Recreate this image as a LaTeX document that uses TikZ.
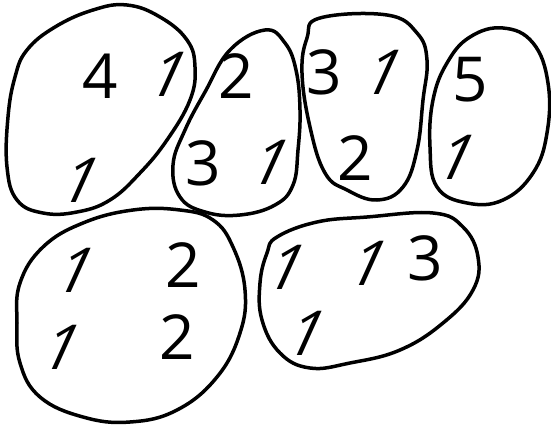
\documentclass[tikz,border=0pt]{standalone}
\usepackage{fontspec}
\setsansfont{Open Sans}
\begin{document}
\begin{tikzpicture}[x=1pt, y=-1pt,
    blob/.style={line width=3.5pt, line join=round},
    digit/.style={font=\sffamily\fontsize{62}{62}\selectfont, inner sep=0pt},
    one/.style={digit, xslant=0.45}]
    \useasboundingbox (0,0) rectangle (551,425);
    % Top row of blobs
    \draw[blob] plot[smooth cycle, tension=0.7] coordinates {(27,50) (55,27) (93,10) (127,5) (160,17) (187,40) (195,67) (190,100) (167,140) (140,173) (110,200) (77,212) (43,213) (17,200) (7,167) (8,117) (15,77)};
    \node[digit] (a4) at (100,76) {4};
    \node[one] (a1) at (170,74) {1};
    \node[one] (a1b) at (82,180) {1};

    \draw[blob] plot[smooth cycle, tension=0.7] coordinates {(265,30) (285,43) (296,70) (300,110) (298,150) (293,185) (275,205) (240,215) (205,212) (180,197) (173,165) (185,130) (205,92) (230,50)};
    \node[digit] (b2) at (236,76) {2};
    \node[digit] (b3) at (203,163) {3};
    \node[one] (b1) at (272,162) {1};

    \draw[blob] plot[smooth cycle, tension=0.7] coordinates {(320,18) (387,15) (417,33) (427,60) (423,100) (417,150) (403,187) (377,200) (347,190) (325,173) (310,127) (302,73) (307,38)};
    \node[digit] (c3) at (324,72) {3};
    \node[one] (c1) at (385,72) {1};
    \node[digit] (c2) at (355,158) {2};

    \draw[blob] plot[smooth cycle, tension=0.7] coordinates {(470,37) (503,28) (533,43) (548,83) (547,133) (533,173) (503,200) (467,203) (437,187) (430,147) (433,100) (447,63)};
    \node[digit] (d5) at (470,80) {5};
    \node[one] (d1) at (458,157) {1};
    % Bottom row of blobs
    \draw[blob] plot[smooth cycle, tension=0.7] coordinates {(20,283) (43,247) (83,223) (133,210) (180,210) (213,220) (233,247) (245,290) (240,333) (217,377) (177,410) (130,422) (83,417) (40,397) (20,363) (17,323)};
    \node[one] (e1) at (77,270) {1};
    \node[digit] (e2) at (183,265) {2};
    \node[one] (e1b) at (63,347) {1};
    \node[digit] (e2b) at (177,337) {2};

    \draw[blob] plot[smooth cycle, tension=0.7] coordinates {(277,237) (317,222) (367,217) (433,213) (463,227) (478,257) (473,290) (443,323) (400,350) (350,363) (310,368) (280,353) (262,320) (260,283) (267,253)};
    \node[one] (f1) at (288,267) {1};
    \node[one] (f1b) at (370,263) {1};
    \node[digit] (f3) at (425,258) {3};
    \node[one] (f1c) at (308,333) {1};
\end{tikzpicture}
\end{document}
